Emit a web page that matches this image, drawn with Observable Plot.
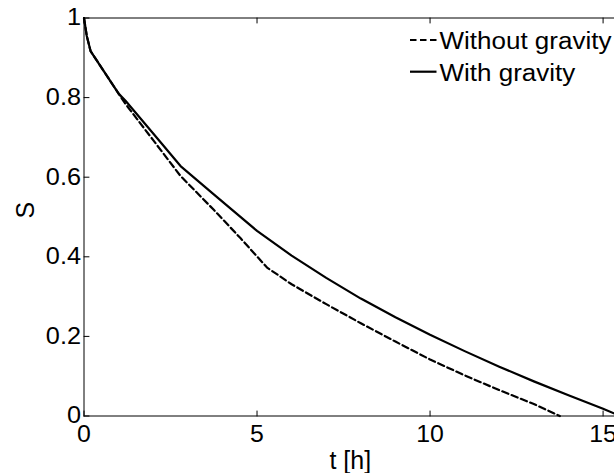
<!DOCTYPE html>
<html><head><meta charset="utf-8">
<script src="https://cdn.jsdelivr.net/npm/d3@7"></script>
<script src="https://cdn.jsdelivr.net/npm/@observablehq/plot@0.6"></script>
<style>html,body{margin:0;padding:0;background:#fff;overflow:hidden}</style>
</head><body><div id="chart"></div>
<script>
// ---- data ----
const xTicks = [0, 5, 10, 15];
const xTickLabels = ["0", "5", "10", "15"];
const yTicks = [0, 0.2, 0.4, 0.6, 0.8, 1];
const yTickLabels = ["0", "0.2", "0.4", "0.6", "0.8", "1"];
const seriesNames = ["Without gravity", "With gravity"];
const xLabel = "t [h]";
const yLabel = "S";
const tWithout = [0, 0.08, 0.19, 1.0, 1.2, 2.0, 2.79, 3.75, 4.52, 5.29, 6.0, 7.0, 8.0, 9.0, 10.0, 11.0, 12.0, 13.0, 13.75];
const sWithout = [1.0, 0.955, 0.917, 0.81, 0.784, 0.693, 0.603, 0.518, 0.447, 0.373, 0.331, 0.281, 0.233, 0.187, 0.142, 0.102, 0.065, 0.030, 0.0];
const tWith = [0, 0.08, 0.19, 1.0, 1.2, 2.0, 2.79, 3.75, 5.0, 6.0, 7.0, 8.0, 9.0, 10.0, 11.0, 12.0, 13.0, 14.0, 15.0, 15.33];
const sWith = [1.0, 0.955, 0.917, 0.81, 0.792, 0.710, 0.628, 0.557, 0.465, 0.403, 0.347, 0.295, 0.248, 0.204, 0.163, 0.124, 0.087, 0.052, 0.018, 0.006];

const rows = [
  ...tWithout.map((t, i) => ({t, s: sWithout[i], series: seriesNames[0]})),
  ...tWith.map((t, i) => ({t, s: sWith[i], series: seriesNames[1]}))
];

// ---- layout / style ----
const W = 614, H = 473;
const mL = 83.5, mR = 0, mT = 17.5, mB = 57.5;
const DASH = "6.5,3.5";
const LW = 2.2;
const TICK = 5;
const FONT = "'Liberation Sans', Arial, Helvetica, sans-serif";
const tickShape = {draw(context, l) { context.moveTo(0, 0); context.lineTo(0, -l); }};

function legendMark(index, scales, values, dims) {
  const g = d3.create("svg:g").attr("font-family", FONT).attr("font-size", 23)
    .attr("fill", "#000").attr("text-anchor", "start");
  const items = [
    {name: seriesNames[0], dash: DASH, base: 49.3},
    {name: seriesNames[1], dash: null, base: 81}
  ];
  for (const it of items) {
    const ly = it.base - 9.3;
    g.append("line").attr("x1", 410).attr("x2", 436.5).attr("y1", ly).attr("y2", ly)
      .attr("stroke", "#000").attr("stroke-width", LW).attr("stroke-dasharray", it.dash);
    g.append("text").attr("class", "stretch-legend").attr("text-anchor", "start")
      .attr("x", 439.5).attr("y", it.base).text(it.name);
  }
  return g.node();
}

const plot = Plot.plot({
  width: W, height: H,
  marginLeft: mL, marginRight: mR, marginTop: mT, marginBottom: mB,
  style: {fontFamily: FONT, fontSize: "23px", color: "#000", background: "#fff", overflow: "visible"},
  x: {domain: [0, 15.33]},
  y: {domain: [0, 1]},
  marks: [
    Plot.ruleX([0], {stroke: "#000", strokeWidth: 1}),
    Plot.ruleY([0, 1], {stroke: "#000", strokeWidth: 1}),
    // inward tick marks
    Plot.vector(xTicks, {x: d => d, frameAnchor: "bottom", length: TICK, rotate: 0, anchor: "start", shape: tickShape, stroke: "#000", strokeWidth: 1}),
    Plot.vector(xTicks, {x: d => d, frameAnchor: "top", length: TICK, rotate: 180, anchor: "start", shape: tickShape, stroke: "#000", strokeWidth: 1}),
    Plot.vector(yTicks, {y: d => d, frameAnchor: "left", length: TICK, rotate: 90, anchor: "start", shape: tickShape, stroke: "#000", strokeWidth: 1}),
    // tick labels
    Plot.axisX(xTicks, {anchor: "bottom", tickSize: 0, tickPadding: 9.5, tickFormat: (d, i) => xTickLabels[i], label: null, fill: "#000"}),
    Plot.axisY(yTicks, {anchor: "left", tickSize: 0, tickPadding: 3, tickFormat: (d, i) => yTickLabels[i], label: null, fill: "#000"}),
    // series
    Plot.line(rows.filter(d => d.series === seriesNames[0]), {x: "t", y: "s", stroke: "#000", strokeWidth: LW, strokeDasharray: DASH, strokeLinejoin: "round"}),
    Plot.line(rows.filter(d => d.series === seriesNames[1]), {x: "t", y: "s", stroke: "#000", strokeWidth: LW, strokeLinejoin: "round"}),
    // axis labels
    Plot.text([xLabel], {frameAnchor: "bottom", lineAnchor: "top", dy: 35, dx: 1, fontSize: 25, fill: "#000"}),
    Plot.text([yLabel], {frameAnchor: "left", rotate: -90, dx: -58.5, dy: 1.5, fontSize: 25, fill: "#000"}),
    legendMark
  ]
});

document.getElementById("chart").appendChild(plot);

// horizontal stretch of text to match the reference's wide lettering
function stretch(sel, k) {
  plot.querySelectorAll(sel).forEach(t => {
    const len = t.getComputedTextLength();
    if (len > 0) {
      t.setAttribute("textLength", (len * k).toFixed(2));
      t.setAttribute("lengthAdjust", "spacingAndGlyphs");
    }
  });
}
stretch('g[aria-label="x-axis tick label"] text', 1.08);
stretch('g[aria-label="y-axis tick label"] text', 1.1);
stretch('text.stretch-legend', 1.13);
</script>
</body></html>
